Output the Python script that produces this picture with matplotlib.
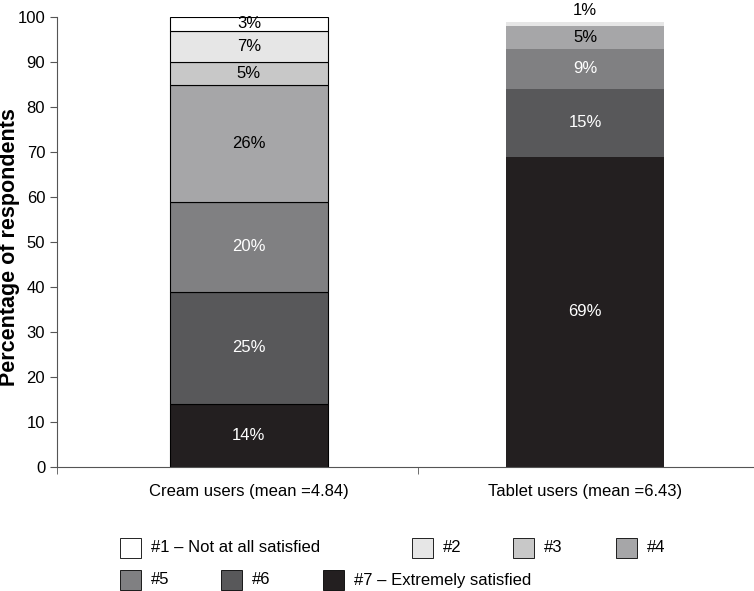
import numpy as np
import matplotlib
matplotlib.use("Agg")
from matplotlib import pyplot as plt
from matplotlib.patches import Rectangle

plt.rcParams['font.family'] = ['Liberation Sans', 'DejaVu Sans']

categories = ["Cream users (mean =4.84)", "Tablet users (mean =6.43)"]
levels = ["#7 \u2013 Extremely satisfied", "#6", "#5", "#4", "#3", "#2", "#1 \u2013 Not at all satisfied"]
cream = [14, 25, 20, 26, 5, 7, 3]
tablet = [69, 15, 9, 5, 0, 1, 0]

colors = ["#231f20", "#58585a", "#808082", "#a6a6a8", "#c8c8c8", "#e6e6e6", "#ffffff"]
text_colors = ["white", "white", "white", "black", "black", "black", "black"]

fig = plt.figure(figsize=(7.54, 5.91), dpi=100)
ax = fig.add_axes([57/754, 124/591, 697/754, 450/591])

x = np.arange(len(categories))
width = 0.47
data = np.array([cream, tablet])
edges = ["black", "none"]

for j in range(len(categories)):
    bottom = 0
    for i in range(len(levels)):
        v = data[j, i]
        if v > 0:
            ax.bar(x[j], v, width, bottom=bottom, color=colors[i],
                   edgecolor=edges[j], linewidth=0.8)
            if v >= 3:
                ax.text(x[j], bottom + v/2, "%d%%" % v, ha="center", va="center",
                        fontsize=12, color=text_colors[i])
            else:
                # thin slice, label sits above the bar
                ax.text(x[j], bottom + v + 2.4, "%d%%" % v, ha="center", va="center",
                        fontsize=12, color="black", clip_on=False)
        bottom += v

ax.set_xlim(-0.571, 1.503)
ax.set_ylim(0, 100)
ax.set_yticks(range(0, 101, 10))
ax.set_xticks(x)
ax.set_xticklabels(categories, fontsize=12)
ax.tick_params(axis="x", which="major", length=0, pad=12)
ax.set_xticks([-0.571, 0.503, 1.503], minor=True)
ax.tick_params(axis="x", which="minor", length=5, direction="out", color="#555555")
ax.tick_params(axis="y", labelsize=12, length=5, color="#555555")
ax.spines["top"].set_visible(False)
ax.spines["right"].set_visible(False)
ax.spines["left"].set_color("#555555")
ax.spines["bottom"].set_color("#555555")
fig.text(10/754, 1 - 247/591, "Percentage of respondents", fontsize=15.5, fontweight="bold",
         rotation=90, ha="center", va="center")

# legend drawn by hand to keep the uneven layout
leg_pos = {
    "#1 \u2013 Not at all satisfied": (120, 548), "#2": (412, 548), "#3": (513, 548), "#4": (616, 548),
    "#5": (120, 580), "#6": (221, 580), "#7 \u2013 Extremely satisfied": (323, 580),
}
for i, name in enumerate(levels):
    px, py = leg_pos[name]
    fig.patches.append(Rectangle((px/754, 1 - (py + 10)/591), 21/754, 20/591,
                                 transform=fig.transFigure, facecolor=colors[i],
                                 edgecolor="black", linewidth=0.6))
    fig.text((px + 31)/754, 1 - py/591, name, fontsize=12, va="center", ha="left")

fig.savefig("out.png", dpi=100)
